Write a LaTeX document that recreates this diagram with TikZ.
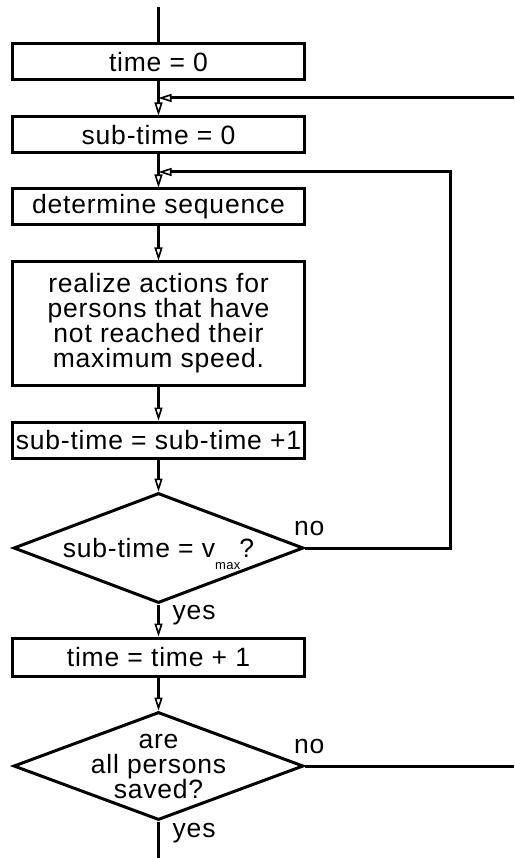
\documentclass[tikz,border=0pt]{standalone}
\usepackage{fontspec}
\setmainfont{Liberation Sans}[LetterSpace=3]
\usetikzlibrary{shapes.geometric,arrows.meta}

\tikzset{
	box/.style={draw, line width=3pt, minimum width=292pt, minimum height=36pt, inner sep=0pt, align=center},
	decision/.style={draw, diamond, line width=3pt, minimum width=290pt, minimum height=110pt, inner sep=0pt},
	conn/.style={line width=3pt},
	flow/.style={conn, -{Triangle[open, length=13pt, width=8pt, line width=1.6pt]}},
	tag/.style={inner sep=0pt}
}

\begin{document}
\begin{tikzpicture}[x=1pt, y=-1pt, font=\fontsize{26.5}{25}\selectfont]
	\useasboundingbox (0,0) rectangle (514,858);
	
	% main column
	\node[box] (t0) at (158.5,62) {time = 0};
	\node[box] (st0) at (158.5,135) {sub-time = 0};
	\node[box] (seq) at (158.5,207) {determine sequence};
	\node[box, minimum height=123pt] (act) at (158.5,323.5) {realize actions for\\persons that have\\not reached their\\maximum speed.};
	\node[box] (inc) at (158.5,440) {sub-time = sub-time +1};
	\node[decision] (d1) at (158.5,548) {};
	\node[anchor=base, inner sep=0pt] (d1t) at ([yshift=-9pt]d1.center) {sub-time = v\raisebox{-12pt}{\fontsize{13}{13}\selectfont max}\kern-1pt?};
	\node[box, minimum height=38pt] (tinc) at (158.5,657) {time = time + 1};
	\node[decision, minimum height=108pt] (d2) at (158.5,766) {};
	\node[align=center, inner sep=0pt] (d2t) at (d2) {are\\all persons\\saved?};
	
	% labels
	\node[tag, anchor=base west] (no1) at ([xshift=-11pt, yshift=13pt]d1.east) {no};
	\node[tag, anchor=base west] (yes1) at ([xshift=14pt, yshift=-15pt]d1.south) {yes};
	\node[tag, anchor=base west] (no2) at ([xshift=-11pt, yshift=13pt]d2.east) {no};
	\node[tag, anchor=base west] (yes2) at ([xshift=14pt, yshift=-16pt]d2.south) {yes};
	
	% free ends
	\coordinate (start) at (158.5,7);
	\coordinate (exit) at (158.5,858);
	\coordinate (back1) at (514,98);
	\coordinate (back2) at (450,172);
	\coordinate (out2) at (514,766);
	
	% connectors
	\draw[conn] (start) -- (t0.north);
	\draw[flow] (t0) -- (st0);
	\draw[flow] (st0) -- (seq);
	\draw[flow] (seq) -- (act);
	\draw[flow] (act) -- (inc);
	\draw[flow] (inc) -- (d1);
	\draw[flow] (d1) -- (tinc);
	\draw[flow] (tinc) -- (d2);
	\draw[conn] (d2.south) -- (exit);
	
	% loops
	\draw[flow] (back1) -- (back1 -| st0.north);
	\draw[flow] (d1.east) -| (back2) -- (back2 -| seq.north);
	\draw[conn] (d2.east) -- (out2);
\end{tikzpicture}
\end{document}
